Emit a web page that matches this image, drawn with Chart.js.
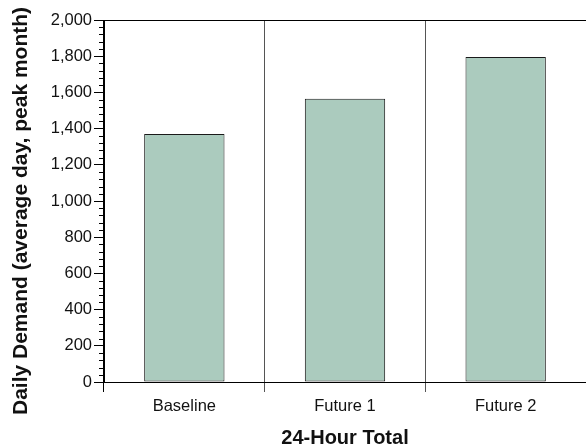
<!DOCTYPE html>
<html>
<head>
<meta charset="utf-8">
<script src="https://cdn.jsdelivr.net/npm/chart.js@4"></script>
<style>
html,body{margin:0;padding:0;background:#fff;}
#wrap{width:586px;height:448px;position:relative;}
</style>
</head>
<body>
<div id="wrap"><canvas id="c" width="586" height="448"></canvas></div>
<script>
const categories = ['Baseline', 'Future 1', 'Future 2'];
const demandValues = [1370, 1565, 1795];
const yTickValues = [0, 200, 400, 600, 800, 1000, 1200, 1400, 1600, 1800, 2000];
const yTitle = 'Daily Demand (average day, peak month)';
const xTitle = '24-Hour Total';

const FONT = '"Liberation Sans", Arial, Helvetica, sans-serif';

const extrasPlugin = {
  id: 'extras',
  afterDraw(chart) {
    const ctx = chart.ctx;
    const y = chart.scales.y;
    const area = chart.chartArea;
    ctx.save();
    ctx.strokeStyle = '#000';
    ctx.lineWidth = 1;
    // top frame line
    ctx.beginPath();
    ctx.moveTo(area.left, Math.round(area.top) + 0.5);
    ctx.lineTo(area.right, Math.round(area.top) + 0.5);
    ctx.stroke();
    // minor ticks
    for (let v = y.min; v <= y.max; v += 40) {
      if (v % 200 === 0) continue;
      const py = Math.round(y.getPixelForValue(v)) + 0.5;
      ctx.beginPath();
      ctx.moveTo(area.left - 5, py);
      ctx.lineTo(area.left, py);
      ctx.stroke();
    }
    // y axis title (centered slightly below chart-area center, as in reference)
    ctx.translate(21, (area.top + area.bottom) / 2 + 10);
    ctx.rotate(-Math.PI / 2);
    ctx.fillStyle = '#111';
    ctx.font = 'bold 21px ' + FONT;
    ctx.textAlign = 'center';
    ctx.textBaseline = 'middle';
    ctx.fillText(yTitle, 0, 0);
    ctx.restore();
  }
};

new Chart(document.getElementById('c'), {
  type: 'bar',
  data: {
    labels: categories,
    datasets: [{
      data: demandValues,
      backgroundColor: '#abcbbe',
      borderColor: '#1a1a1a',
      borderWidth: 1,
      borderSkipped: false,
      barPercentage: 0.5,
      categoryPercentage: 1.0
    }]
  },
  options: {
    responsive: false,
    animation: false,
    devicePixelRatio: 1,
    layout: { padding: { top: 20, right: 0, left: 0, bottom: 0 } },
    plugins: { legend: { display: false }, tooltip: { enabled: false } },
    scales: {
      x: {
        offset: true,
        grid: {
          offset: true,
          display: true,
          drawOnChartArea: true,
          color: (c) => c.index === 3 ? 'rgba(0,0,0,0)' : (c.index === 0 ? '#000' : '#555'),
          tickColor: (c) => c.index === 3 ? 'rgba(0,0,0,0)' : (c.index === 0 ? '#000' : '#555'),
          tickLength: 10,
          lineWidth: 1
        },
        border: { display: true, color: '#000', width: 1 },
        ticks: {
          color: '#111',
          font: { family: FONT, size: 16.5 },
          padding: 5,
          maxRotation: 0
        },
        title: {
          display: true,
          text: xTitle,
          color: '#111',
          font: { family: FONT, size: 20, weight: 'bold' },
          padding: { top: 8, bottom: -2 }
        },
        afterFit(scale) { scale.height = 66; }
      },
      y: {
        min: 0,
        max: 2000,
        afterBuildTicks(scale) { scale.ticks = yTickValues.map(v => ({ value: v })); },
        grid: {
          display: true,
          drawOnChartArea: false,
          drawTicks: true,
          tickLength: 10,
          tickColor: '#000'
        },
        border: { display: true, color: '#000', width: 1 },
        ticks: {
          color: '#111',
          font: { family: FONT, size: 16.5 },
          padding: 2,
          callback: (v) => Number(v).toLocaleString('en-US')
        },
        title: { display: false },
        afterFit(scale) { scale.width = 104; }
      }
    }
  },
  plugins: [extrasPlugin]
});
</script>
</body>
</html>
